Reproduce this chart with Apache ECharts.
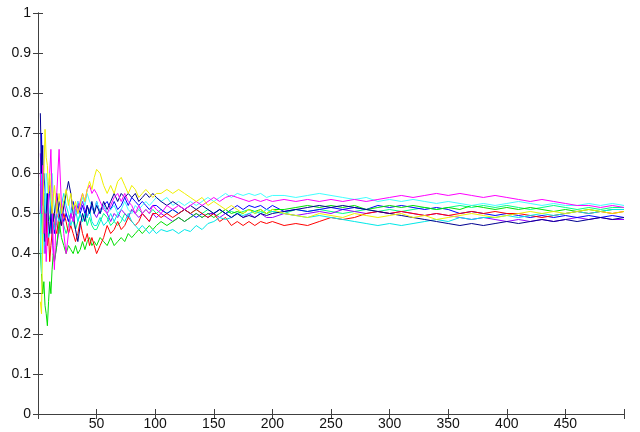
<!DOCTYPE html>
<html>
<head>
<meta charset="utf-8">
<script src="https://cdn.jsdelivr.net/npm/echarts@6/dist/echarts.min.js"></script>
<style>html,body{margin:0;padding:0;background:#fff;}#c{width:640px;height:432px;}</style>
</head>
<body>
<div id="c"></div>
<script>
// trial index (x) shared by all series
const steps = [
  2,3,4,5,6,7,8,9,10,11,12,13,14,
  16,18,20,22,24,26,28,30,32,34,36,38,40,42,44,46,48,50,
  53,56,59,62,65,68,71,74,77,80,83,86,89,92,95,98,101,
  105,110,115,120,125,130,135,140,145,150,155,160,165,170,175,180,185,190,195,200,
  210,220,230,240,250,260,270,280,290,300,310,320,330,340,350,360,370,380,390,400,410,420,430,440,450,460,470,480,490,500
];

const yellowVals = [
  0.28,0.25,0.45,0.60,0.71,0.64,0.62,0.55,0.60,0.55,0.50,0.54,0.57,
  0.50,0.55,0.50,0.53,0.56,0.52,0.55,0.51,0.53,0.50,0.52,0.55,0.53,0.56,0.58,0.56,0.59,0.61,
  0.60,0.57,0.55,0.57,0.55,0.58,0.59,0.57,0.55,0.57,0.56,0.54,0.55,0.56,0.55,0.54,0.55,
  0.55,0.56,0.55,0.56,0.55,0.54,0.53,0.54,0.52,0.53,0.52,0.51,0.52,0.51,0.50,0.51,0.50,0.51,0.50,0.51,
  0.50,0.495,0.49,0.50,0.495,0.49,0.50,0.495,0.49,0.495,0.50,0.49,0.495,0.485,0.49,0.495,0.50,0.495,0.49,0.495,0.50,0.505,0.50,0.505,0.50,0.505,0.51,0.505,0.50,0.505
];
const magentaVals = [
  0.60,0.50,0.62,0.45,0.50,0.38,0.45,0.55,0.60,0.66,0.55,0.42,0.36,
  0.55,0.66,0.52,0.45,0.40,0.45,0.50,0.48,0.52,0.50,0.53,0.55,0.53,0.56,0.57,0.55,0.56,0.55,
  0.53,0.51,0.50,0.52,0.54,0.55,0.53,0.55,0.53,0.52,0.50,0.52,0.50,0.51,0.50,0.52,0.51,
  0.50,0.52,0.51,0.52,0.51,0.52,0.53,0.52,0.53,0.54,0.53,0.54,0.545,0.54,0.535,0.53,0.535,0.53,0.535,0.53,
  0.535,0.53,0.535,0.53,0.535,0.53,0.535,0.53,0.535,0.54,0.545,0.54,0.545,0.55,0.545,0.55,0.545,0.54,0.545,0.54,0.535,0.53,0.535,0.53,0.525,0.52,0.52,0.515,0.52,0.515
];
const cyanLowVals = [
  0.45,0.60,0.40,0.50,0.42,0.55,0.50,0.44,0.45,0.50,0.52,0.48,0.46,
  0.50,0.48,0.52,0.55,0.52,0.50,0.47,0.49,0.51,0.48,0.50,0.48,0.50,0.49,0.51,0.48,0.47,0.47,
  0.49,0.47,0.48,0.50,0.48,0.50,0.49,0.48,0.50,0.48,0.47,0.46,0.47,0.46,0.45,0.46,0.45,
  0.46,0.455,0.46,0.45,0.46,0.455,0.47,0.46,0.475,0.48,0.49,0.485,0.49,0.50,0.495,0.50,0.505,0.50,0.51,0.505,
  0.50,0.495,0.49,0.495,0.49,0.485,0.48,0.475,0.47,0.475,0.47,0.475,0.48,0.485,0.48,0.49,0.485,0.49,0.49,0.495,0.49,0.495,0.50,0.495,0.50,0.505,0.50,0.505,0.51,0.51
];
const cyanHighVals = [
  0.50,0.35,0.45,0.55,0.50,0.60,0.58,0.52,0.50,0.55,0.60,0.55,0.50,
  0.53,0.50,0.48,0.52,0.55,0.53,0.50,0.52,0.50,0.53,0.52,0.54,0.52,0.55,0.53,0.52,0.50,0.53,
  0.50,0.52,0.50,0.51,0.52,0.50,0.51,0.53,0.51,0.50,0.52,0.51,0.52,0.53,0.52,0.53,0.54,
  0.53,0.54,0.52,0.53,0.52,0.53,0.52,0.53,0.54,0.53,0.54,0.55,0.54,0.55,0.545,0.55,0.545,0.55,0.54,0.545,
  0.545,0.54,0.545,0.55,0.545,0.54,0.535,0.54,0.53,0.535,0.53,0.535,0.53,0.525,0.53,0.525,0.52,0.525,0.52,0.525,0.53,0.525,0.52,0.525,0.52,0.52,0.525,0.52,0.525,0.52
];
const redVals = [
  0.57,0.60,0.52,0.55,0.45,0.50,0.42,0.45,0.38,0.42,0.45,0.50,0.47,
  0.45,0.50,0.47,0.50,0.48,0.45,0.47,0.45,0.43,0.45,0.48,0.45,0.43,0.45,0.42,0.44,0.42,0.40,
  0.42,0.44,0.47,0.45,0.46,0.48,0.46,0.47,0.49,0.48,0.47,0.48,0.50,0.49,0.48,0.50,0.50,
  0.49,0.50,0.49,0.50,0.51,0.50,0.51,0.50,0.49,0.50,0.48,0.49,0.47,0.48,0.47,0.48,0.47,0.48,0.475,0.48,
  0.47,0.475,0.47,0.48,0.49,0.485,0.49,0.50,0.505,0.50,0.505,0.50,0.495,0.50,0.495,0.50,0.505,0.50,0.505,0.50,0.50,0.495,0.49,0.495,0.50,0.505,0.50,0.505,0.50,0.505
];
const greenVals = [
  0.40,0.35,0.30,0.33,0.27,0.25,0.22,0.28,0.33,0.30,0.36,0.40,0.38,
  0.42,0.48,0.44,0.42,0.40,0.42,0.41,0.40,0.42,0.40,0.41,0.43,0.41,0.43,0.44,0.42,0.43,0.42,
  0.44,0.43,0.42,0.44,0.42,0.43,0.44,0.43,0.45,0.44,0.45,0.46,0.45,0.46,0.47,0.46,0.47,
  0.48,0.47,0.48,0.49,0.48,0.49,0.50,0.49,0.50,0.49,0.50,0.51,0.50,0.505,0.50,0.51,0.505,0.51,0.50,0.51,
  0.51,0.515,0.52,0.515,0.52,0.515,0.52,0.51,0.515,0.52,0.515,0.52,0.515,0.51,0.515,0.51,0.52,0.515,0.51,0.515,0.51,0.515,0.51,0.505,0.51,0.505,0.51,0.505,0.51,0.51
];
const blueVals = [
  0.75,0.60,0.67,0.50,0.43,0.50,0.55,0.48,0.45,0.50,0.52,0.48,0.50,
  0.55,0.50,0.47,0.52,0.55,0.58,0.55,0.50,0.46,0.43,0.47,0.50,0.48,0.52,0.50,0.53,0.50,0.52,
  0.50,0.53,0.51,0.53,0.55,0.53,0.55,0.54,0.55,0.54,0.55,0.53,0.54,0.55,0.54,0.55,0.54,
  0.53,0.52,0.53,0.52,0.51,0.52,0.51,0.52,0.51,0.50,0.51,0.50,0.49,0.50,0.49,0.495,0.49,0.50,0.495,0.50,
  0.505,0.51,0.515,0.52,0.515,0.52,0.515,0.51,0.505,0.50,0.495,0.49,0.485,0.48,0.475,0.47,0.475,0.47,0.475,0.48,0.475,0.48,0.485,0.48,0.485,0.48,0.485,0.49,0.485,0.49
];
const navyVals = [
  0.50,0.70,0.55,0.60,0.60,0.52,0.50,0.56,0.55,0.50,0.45,0.48,0.45,
  0.50,0.53,0.50,0.48,0.50,0.48,0.50,0.53,0.50,0.52,0.50,0.52,0.50,0.52,0.50,0.52,0.50,0.53,
  0.50,0.52,0.53,0.51,0.53,0.51,0.52,0.54,0.52,0.54,0.53,0.52,0.53,0.52,0.51,0.52,0.52,
  0.51,0.50,0.51,0.50,0.51,0.50,0.49,0.50,0.49,0.50,0.51,0.50,0.51,0.52,0.51,0.52,0.515,0.52,0.51,0.52,
  0.505,0.51,0.505,0.51,0.515,0.51,0.515,0.51,0.52,0.515,0.52,0.515,0.51,0.515,0.51,0.50,0.505,0.50,0.495,0.50,0.495,0.49,0.495,0.49,0.495,0.49,0.495,0.49,0.495,0.49
];
const purpleVals = [
  0.65,0.55,0.45,0.50,0.40,0.45,0.50,0.55,0.57,0.52,0.45,0.40,0.38,
  0.42,0.46,0.50,0.53,0.50,0.48,0.50,0.48,0.50,0.53,0.51,0.53,0.51,0.49,0.51,0.52,0.50,0.49,
  0.51,0.52,0.50,0.48,0.50,0.49,0.51,0.50,0.49,0.51,0.50,0.49,0.50,0.49,0.48,0.50,0.49,
  0.50,0.49,0.48,0.49,0.48,0.49,0.50,0.49,0.50,0.50,0.49,0.50,0.49,0.50,0.49,0.50,0.49,0.50,0.49,0.49,
  0.50,0.495,0.50,0.505,0.50,0.51,0.505,0.50,0.505,0.50,0.505,0.50,0.495,0.50,0.495,0.49,0.485,0.49,0.485,0.48,0.485,0.48,0.485,0.48,0.485,0.49,0.485,0.49,0.485,0.485
];
const springVals = [
  0.40,0.50,0.60,0.55,0.50,0.44,0.45,0.50,0.50,0.47,0.45,0.48,0.50,
  0.47,0.45,0.50,0.47,0.45,0.47,0.50,0.48,0.46,0.48,0.50,0.48,0.50,0.47,0.49,0.47,0.46,0.46,
  0.48,0.50,0.49,0.47,0.48,0.47,0.48,0.50,0.49,0.51,0.50,0.51,0.50,0.51,0.50,0.51,0.50,
  0.51,0.50,0.51,0.50,0.51,0.50,0.51,0.50,0.51,0.50,0.51,0.50,0.505,0.50,0.505,0.51,0.50,0.505,0.50,0.505,
  0.50,0.51,0.505,0.51,0.505,0.50,0.505,0.51,0.505,0.51,0.505,0.51,0.515,0.51,0.515,0.52,0.515,0.52,0.515,0.52,0.515,0.51,0.515,0.52,0.515,0.51,0.515,0.51,0.515,0.515
];

const yTickLabels = ['0','0.1','0.2','0.3','0.4','0.5','0.6','0.7','0.8','0.9','1'];

const seriesDefs = [
  ['#00ff80', springVals],
  ['#9900ff', purpleVals],
  ['#0000ff', navyVals],
  ['#00e000', greenVals],
  ['#ff0000', redVals],
  ['#00e8e8', cyanLowVals],
  ['#40ffff', cyanHighVals],
  ['#000090', blueVals],
  ['#ff00ff', magentaVals],
  ['#f0f000', yellowVals]
];

const chart = echarts.init(document.getElementById('c'), null, {renderer: 'canvas'});
const axisCol = '#404040';
const font = 'Liberation Sans, Arial, sans-serif';
chart.setOption({
  animation: false,
  backgroundColor: '#ffffff',
  grid: {left: 38, right: 16, top: 13, bottom: 18, containLabel: false},
  xAxis: [
    {type: 'value', min: 0, max: 500, interval: 50, position: 'bottom',
     axisLine: {show: true, lineStyle: {color: axisCol, width: 1}},
     axisTick: {show: true, inside: true, length: 5, lineStyle: {color: axisCol}},
     axisLabel: {color: '#111', fontSize: 14, fontFamily: font, margin: 3,
       formatter: v => (v === 0 || v === 500) ? '' : String(v)},
     splitLine: {show: false}},
    {type: 'value', min: 0, max: 500, interval: 50, position: 'top',
     axisLine: {show: true, lineStyle: {color: axisCol, width: 1}},
     axisTick: {show: true, inside: true, length: 5, lineStyle: {color: axisCol}},
     axisLabel: {show: false}, splitLine: {show: false}}
  ],
  yAxis: [
    {type: 'value', min: 0, max: 1, interval: 0.1, position: 'left',
     axisLine: {show: true, lineStyle: {color: axisCol, width: 1}},
     axisTick: {show: true, inside: true, length: 5, lineStyle: {color: axisCol}},
     axisLabel: {color: '#111', fontSize: 14, fontFamily: font, margin: 7,
       formatter: v => yTickLabels[Math.round(v * 10)]},
     splitLine: {show: false}},
    {type: 'value', min: 0, max: 1, interval: 0.1, position: 'right',
     axisLine: {show: true, lineStyle: {color: axisCol, width: 1}},
     axisTick: {show: true, inside: true, length: 5, lineStyle: {color: axisCol}},
     axisLabel: {show: false}, splitLine: {show: false}}
  ],
  series: seriesDefs.map(([col, vals]) => ({
    type: 'line', xAxisIndex: 0, yAxisIndex: 0,
    data: steps.map((x, i) => [x, vals[i]]),
    showSymbol: false, symbol: 'none', smooth: false,
    lineStyle: {color: col, width: 1}, itemStyle: {color: col},
    clip: true
  }))
});
</script>
</body>
</html>
